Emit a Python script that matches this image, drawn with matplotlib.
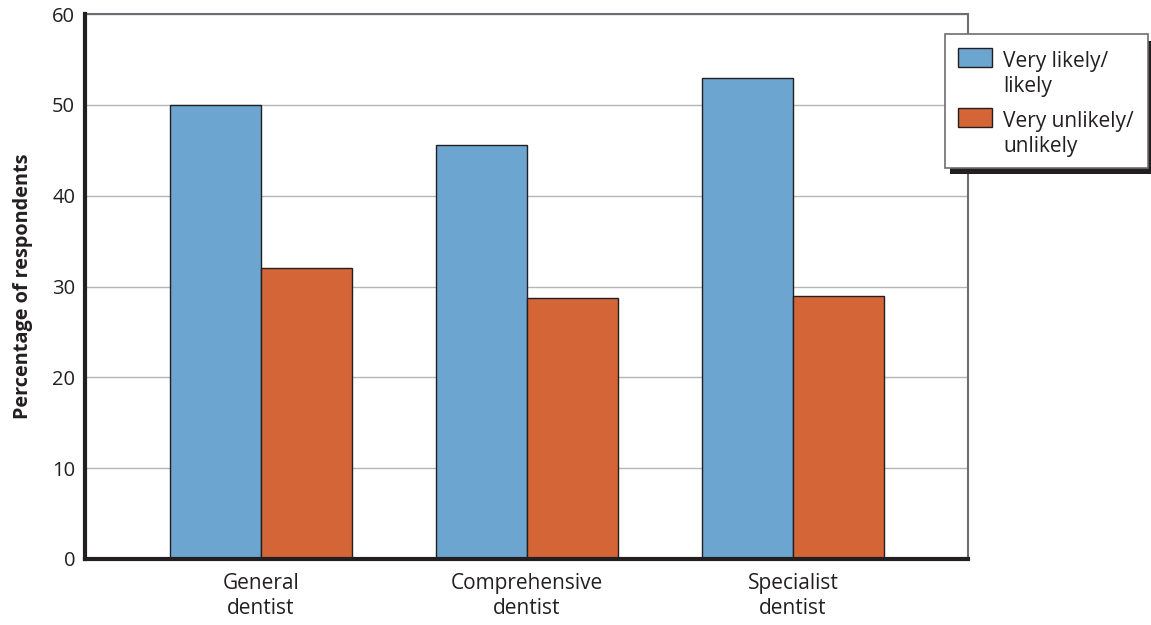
import matplotlib
matplotlib.use("Agg")
import matplotlib.pyplot as plt
import numpy as np
from matplotlib.patches import Rectangle

plt.rcParams['font.family'] = ['Open Sans', 'DejaVu Sans']

categories = ["General\ndentist", "Comprehensive\ndentist", "Specialist\ndentist"]
likely = [50.0, 45.6, 53.0]
unlikely = [32.0, 28.7, 29.0]
series_names = [["Very likely/", "likely"], ["Very unlikely/", "unlikely"]]
yticks = [0, 10, 20, 30, 40, 50, 60]

blue = "#6ca5cf"
orange = "#d46537"
edge = "#231f20"
frame_gray = "#6d6e71"

W, H = 1151, 625
fig = plt.figure(figsize=(W / 100, H / 100), dpi=100)
ax = fig.add_axes([0.0738, 0.1056, 0.841 - 0.0738, 0.9776 - 0.1056])

x = np.arange(len(categories))
w = 0.342
b1 = ax.bar(x - w / 2, likely, w, color=blue, edgecolor=edge, linewidth=1.0, zorder=3)
b2 = ax.bar(x + w / 2, unlikely, w, color=orange, edgecolor=edge, linewidth=1.0, zorder=3)

ax.set_xlim(-0.662, 2.658)
ax.set_ylim(0, 60)
ax.set_yticks(yticks)
ax.set_xticks(x)
ax.set_xticklabels(categories, fontsize=15, color=edge, linespacing=1.28)
ax.tick_params(axis='y', labelsize=14.5, labelcolor=edge, length=0, pad=7)
ax.tick_params(axis='x', length=0, pad=10)
ax.yaxis.grid(True, color="#b5b5b5", linewidth=1.0, zorder=0)
ax.set_axisbelow(True)

for s in ("left", "bottom"):
    ax.spines[s].set_linewidth(3.0)
    ax.spines[s].set_color(edge)
    ax.spines[s].set_zorder(5)
for s in ("top", "right"):
    ax.spines[s].set_linewidth(1.5)
    ax.spines[s].set_color(frame_gray)

ax.set_ylabel("Percentage of respondents", fontsize=14.3, fontweight='bold',
              color=edge, labelpad=14)


# Legend box drawn in figure pixel coordinates (origin top-left)
def fx(px):
    return px / W


def fy(py):
    return 1 - py / H


box_l, box_t, box_r, box_b = 945, 34.5, 1148, 168
fig.add_artist(Rectangle((fx(box_l + 5), fy(box_b + 6)), fx(box_r - box_l), (box_b - box_t) / H,
                         transform=fig.transFigure, facecolor=edge, edgecolor='none', zorder=9))
fig.add_artist(Rectangle((fx(box_l), fy(box_b)), fx(box_r - box_l), (box_b - box_t) / H,
                         transform=fig.transFigure, facecolor='white', edgecolor=frame_gray,
                         linewidth=1.2, zorder=10))

entries = [(blue, series_names[0], 48.3), (orange, series_names[1], 108.3)]
for color, lines, top in entries:
    fig.add_artist(Rectangle((fx(957.5), fy(top + 18.5)), fx(34.5), 18.5 / H,
                             transform=fig.transFigure, facecolor=color, edgecolor=edge,
                             linewidth=1.0, zorder=11))
    for i, line in enumerate(lines):
        fig.text(fx(1003), fy(top + 18.4 + 25 * i), line, fontsize=15, color=edge,
                 ha='left', va='baseline', zorder=12)

fig.savefig("out.png", dpi=100)
